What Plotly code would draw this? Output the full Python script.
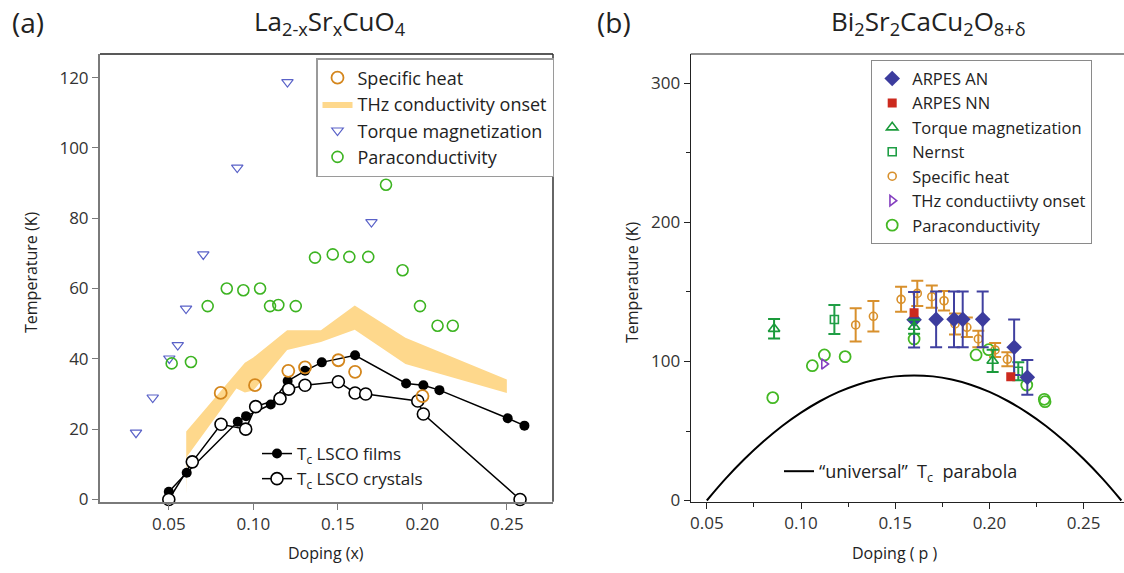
import plotly.graph_objects as go

# ---------------- Panel (a) data: La2-xSrxCuO4 ----------------
films_x = [0.050, 0.0606, 0.0908, 0.0957, 0.1103, 0.1203, 0.1306, 0.1405, 0.1602, 0.1904, 0.2006, 0.2101, 0.2505, 0.2604]
films_y = [2.2, 7.6, 22.1, 23.7, 27.0, 33.7, 36.6, 39.0, 41.0, 33.0, 32.5, 31.1, 23.1, 21.0]

crystals_x = [0.050, 0.0639, 0.0809, 0.0955, 0.1014, 0.1158, 0.1209, 0.1306, 0.1503, 0.1602, 0.1665, 0.1973, 0.2006, 0.2578]
crystals_y = [0.0, 10.7, 21.4, 20.0, 26.4, 28.7, 31.4, 32.5, 33.5, 30.3, 30.0, 28.0, 24.3, 0.0]

sh_a_x = [0.0807, 0.1010, 0.1207, 0.1306, 0.1503, 0.1602, 0.2001]
sh_a_y = [30.3, 32.5, 36.6, 37.6, 39.6, 36.3, 29.4]

para_a_x = [0.0517, 0.0631, 0.0730, 0.0843, 0.0941, 0.1040, 0.1099, 0.1148, 0.1251, 0.1365,
            0.1470, 0.1568, 0.1680, 0.1785, 0.1883, 0.1986, 0.2090, 0.2180]
para_a_y = [38.7, 39.1, 55.0, 60.0, 59.5, 60.0, 55.0, 55.3, 55.0, 68.8,
            69.7, 69.0, 69.0, 89.5, 65.2, 55.0, 49.4, 49.4]

torque_a_x = [0.0306, 0.0405, 0.0503, 0.0553, 0.0602, 0.0704, 0.0905, 0.1202, 0.1699]
torque_a_y = [19.0, 29.0, 40.1, 43.9, 54.3, 69.7, 94.4, 118.7, 78.9]

thz_upper_x = [0.0603, 0.0950, 0.1000, 0.1200, 0.1400, 0.1600, 0.1900, 0.2500]
thz_upper_y = [19.3, 38.9, 40.4, 48.1, 48.1, 55.2, 46.0, 34.1]
thz_lower_x = [0.0603, 0.0608, 0.0900, 0.0950, 0.1000, 0.1200, 0.1400, 0.1600, 0.1900, 0.2500]
thz_lower_y = [1.5, 12.2, 31.6, 30.4, 31.0, 42.5, 44.8, 48.3, 38.5, 30.3]

# ---------------- Panel (b) data: Bi2Sr2CaCu2O8+d ----------------
arpes_an_x = [0.160, 0.1717, 0.1812, 0.1858, 0.1964, 0.2131, 0.2201]
arpes_an_y = [130.0, 130.3, 130.3, 130.3, 130.3, 110.2, 88.6]
arpes_an_err = [20, 20, 20, 20, 20, 20, 12.5]

arpes_nn_x = [0.160, 0.2113]
arpes_nn_y = [135.1, 89.1]

torque_b_x = [0.0857, 0.160, 0.2017]
torque_b_y = [123.5, 125.0, 100.5]
torque_b_err = [7, 5, 8]

nernst_x = [0.1177, 0.2153]
nernst_y = [130.2, 93.0]
nernst_err = [10.4, 6.5]

sh_b_x = [0.1290, 0.1384, 0.1531, 0.1617, 0.1694, 0.1759, 0.1817, 0.1880, 0.1941, 0.2030, 0.2095]
sh_b_y = [126.3, 132.5, 144.7, 149.0, 146.6, 143.7, 127.0, 124.6, 116.2, 108.3, 101.6]
sh_b_err = [12, 11, 9, 9, 8, 7, 7.5, 7, 6, 5, 5]

thz_b_x = [0.1122]
thz_b_y = [98.2]

para_b_x = [0.0850, 0.1060, 0.1124, 0.1234, 0.1600, 0.1929, 0.1996, 0.2198, 0.2291, 0.2295]
para_b_y = [74.0, 97.0, 104.7, 103.5, 116.2, 104.7, 108.5, 83.1, 72.8, 71.1]

parab_x = [0.05, 0.06, 0.07, 0.08, 0.09, 0.10, 0.11, 0.12, 0.13, 0.14, 0.15, 0.16,
           0.17, 0.18, 0.19, 0.20, 0.21, 0.22, 0.23, 0.24, 0.25, 0.26, 0.27]
parab_y = [0.0, 15.7, 29.8, 42.4, 53.6, 63.2, 71.4, 78.1, 83.3, 87.0, 89.3, 90.0,
           89.3, 87.0, 83.3, 78.1, 71.4, 63.2, 53.6, 42.4, 29.8, 15.7, 0.0]

FONT = "Open Sans"
W, H = 1124, 573

def px(x):
    return x / W

def py(y):
    return 1 - y / H

fig = go.Figure()

# THz band (panel a)
fig.add_trace(go.Scatter(
    x=thz_upper_x + thz_lower_x[::-1], y=thz_upper_y + thz_lower_y[::-1],
    mode="lines", fill="toself", fillcolor="#fed88c", line=dict(width=0, color="#fed88c"),
    name="THz conductivity onset", legend="legend", legendrank=2, xaxis="x", yaxis="y"))

fig.add_trace(go.Scatter(
    x=torque_a_x, y=torque_a_y, mode="markers", name="Torque magnetization",
    marker=dict(symbol="triangle-down-open", size=10, color="#5a62c8", line=dict(width=1.2)),
    legend="legend", legendrank=3, xaxis="x", yaxis="y"))

fig.add_trace(go.Scatter(
    x=para_a_x, y=para_a_y, mode="markers", name="Paraconductivity",
    marker=dict(symbol="circle-open", size=11, color="#3db422", line=dict(width=1.6)),
    legend="legend", legendrank=4, xaxis="x", yaxis="y"))

fig.add_trace(go.Scatter(
    x=films_x, y=films_y, mode="lines+markers", name="T<sub>c</sub> LSCO films",
    line=dict(color="black", width=1.5),
    marker=dict(symbol="circle", size=10, color="black"),
    cliponaxis=False, legend="legend2", xaxis="x", yaxis="y"))

fig.add_trace(go.Scatter(
    x=crystals_x, y=crystals_y, mode="lines+markers", name="T<sub>c</sub> LSCO crystals",
    line=dict(color="black", width=1.5),
    marker=dict(symbol="circle", size=12, color="white", line=dict(color="black", width=1.6)),
    cliponaxis=False, legend="legend2", xaxis="x", yaxis="y"))

fig.add_trace(go.Scatter(
    x=sh_a_x, y=sh_a_y, mode="markers", name="Specific heat",
    marker=dict(symbol="circle-open", size=12, color="#d4861c", line=dict(width=1.8)),
    legend="legend", legendrank=1, xaxis="x", yaxis="y"))

# ---------------- Panel (b) traces ----------------
fig.add_trace(go.Scatter(
    x=parab_x, y=parab_y, mode="lines", name="\u201cuniversal\u201d  T<sub>c</sub>  parabola",
    line=dict(color="black", width=2, shape="spline"), legend="legend4", xaxis="x2", yaxis="y2"))

fig.add_trace(go.Scatter(
    x=para_b_x, y=para_b_y, mode="markers", name="Paraconductivity",
    marker=dict(symbol="circle-open", size=11, color="#44b824", line=dict(width=1.8)),
    legend="legend3", legendrank=7, xaxis="x2", yaxis="y2"))

fig.add_trace(go.Scatter(
    x=sh_b_x, y=sh_b_y, mode="markers", name="Specific heat",
    error_y=dict(type="data", array=sh_b_err, width=6, thickness=2, color="#d8902c"),
    marker=dict(symbol="circle-open", size=8, color="#d8902c", line=dict(width=1.6)),
    legend="legend3", legendrank=5, xaxis="x2", yaxis="y2"))

fig.add_trace(go.Scatter(
    x=nernst_x, y=nernst_y, mode="markers", name="Nernst",
    error_y=dict(type="data", array=nernst_err, width=6, thickness=2, color="#1f9e45"),
    marker=dict(symbol="square-open", size=8, color="#1f9e45", line=dict(width=1.6)),
    legend="legend3", legendrank=4, xaxis="x2", yaxis="y2"))

fig.add_trace(go.Scatter(
    x=arpes_an_x, y=arpes_an_y, mode="markers", name="ARPES AN",
    error_y=dict(type="data", array=arpes_an_err, width=6, thickness=2, color="#4040a0"),
    marker=dict(symbol="diamond", size=12, color="#3c3c9e"),
    legend="legend3", legendrank=1, xaxis="x2", yaxis="y2"))

fig.add_trace(go.Scatter(
    x=torque_b_x, y=torque_b_y, mode="markers", name="Torque magnetization",
    error_y=dict(type="data", array=torque_b_err, width=6, thickness=2, color="#1a9a3a"),
    marker=dict(symbol="triangle-up-open", size=10, color="#1a9a3a", line=dict(width=1.6)),
    legend="legend3", legendrank=3, xaxis="x2", yaxis="y2"))

fig.add_trace(go.Scatter(
    x=arpes_nn_x, y=arpes_nn_y, mode="markers", name="ARPES NN",
    marker=dict(symbol="square", size=9, color="#cc2a1e"),
    legend="legend3", legendrank=2, xaxis="x2", yaxis="y2"))

fig.add_trace(go.Scatter(
    x=thz_b_x, y=thz_b_y, mode="markers", name="THz conductiivty onset",
    marker=dict(symbol="triangle-right-open", size=9, color="#8540c0", line=dict(width=1.6)),
    legend="legend3", legendrank=6, xaxis="x2", yaxis="y2"))

TICKFONT = dict(family=FONT, size=17, color="#333333")

xa_dom = [px(100), px(553)]
xb_dom = [px(690.7), 1.0]
y_dom = [py(501.7), py(54)]

fig.update_layout(
    width=W, height=H, margin=dict(l=0, r=0, t=0, b=0, pad=0, autoexpand=False),
    paper_bgcolor="white", plot_bgcolor="white",
    font=dict(family=FONT, size=17, color="#222222"),
    xaxis=dict(domain=xa_dom, range=[0.0093, 0.2773], anchor="y", automargin=False,
               tickvals=[0.05, 0.10, 0.15, 0.20, 0.25], tickformat=".2f",
               showline=True, linecolor="#7a7a7a", linewidth=2, ticks="outside",
               ticklen=6, tickwidth=1.2, tickcolor="#7a7a7a", showgrid=False, zeroline=False,
               tickfont=TICKFONT),
    yaxis=dict(domain=y_dom, range=[-0.63, 126.7], anchor="x", automargin=False,
               tickvals=[0, 20, 40, 60, 80, 100, 120],
               showline=True, linecolor="#7a7a7a", linewidth=2, ticks="outside",
               ticklen=6, tickwidth=1.2, tickcolor="#7a7a7a", showgrid=False, zeroline=False,
               tickfont=TICKFONT),
    xaxis2=dict(domain=xb_dom, range=[0.04145, 0.2714], anchor="y2", automargin=False,
                tick0=0.05, dtick=0.05, tickformat=".2f",
                showline=True, linecolor="#222222", linewidth=1.2, ticks="outside",
                ticklen=6, tickwidth=1, tickcolor="#222222", showgrid=False, zeroline=False,
                minor=dict(tick0=0.05, dtick=0.025, ticks="outside", ticklen=4, tickcolor="#222222"),
                tickfont=TICKFONT),
    yaxis2=dict(domain=y_dom, range=[-0.86, 321.2], anchor="x2", automargin=False,
                tickvals=[0, 100, 200, 300],
                showline=True, linecolor="#222222", linewidth=1.2, ticks="outside",
                ticklen=6, tickwidth=1, tickcolor="#222222", showgrid=False, zeroline=False,
                minor=dict(tickvals=[50, 150, 250], ticks="outside", ticklen=4, tickcolor="#222222"),
                tickfont=TICKFONT),
    legend=dict(x=px(316), y=py(58), xanchor="left", yanchor="top",
                bgcolor="white", bordercolor="#9a9a9a", borderwidth=1.5,
                font=dict(family=FONT, size=18, color="#222222"), itemwidth=30,
                tracegroupgap=0),
    legend2=dict(x=px(257), y=py(436), xanchor="left", yanchor="top",
                 bgcolor="rgba(0,0,0,0)", borderwidth=0,
                 font=dict(family=FONT, size=17, color="#222222")),
    legend3=dict(x=px(871), y=py(60), xanchor="left", yanchor="top",
                 bgcolor="white", bordercolor="#8a8a8a", borderwidth=1.2,
                 font=dict(family=FONT, size=16.5, color="#222222"), itemwidth=30,
                 tracegroupgap=0),
    legend4=dict(x=px(779), y=py(453), xanchor="left", yanchor="top",
                 bgcolor="rgba(0,0,0,0)", borderwidth=0,
                 font=dict(family=FONT, size=18, color="#222222")),
    showlegend=True,
)

# frame lines (top/right of panel a, top of panel b)
fig.add_shape(type="line", xref="paper", yref="paper", x0=xa_dom[0], x1=xa_dom[1], y0=y_dom[1], y1=y_dom[1],
              line=dict(color="#222222", width=1.5))
fig.add_shape(type="line", xref="paper", yref="paper", x0=xa_dom[1], x1=xa_dom[1], y0=y_dom[0], y1=y_dom[1],
              line=dict(color="#333333", width=1.5))
fig.add_shape(type="line", xref="paper", yref="paper", x0=xb_dom[0], x1=xb_dom[1], y0=y_dom[1], y1=y_dom[1],
              line=dict(color="#222222", width=1.2))

ann = [
    dict(text="(a)", x=px(28), y=py(22), font=dict(size=28)),
    dict(text="La<sub>2-x</sub>Sr<sub>x</sub>CuO<sub>4</sub>", x=px(330), y=py(22), font=dict(size=26)),
    dict(text="(b)", x=px(614), y=py(22), font=dict(size=28)),
    dict(text="Bi<sub>2</sub>Sr<sub>2</sub>CaCu<sub>2</sub>O<sub>8+\u03b4</sub>", x=px(928), y=py(22), font=dict(size=26)),
    dict(text="Doping (x)", x=px(326), y=py(553), font=dict(size=16)),
    dict(text="Doping ( p )", x=px(895), y=py(553), font=dict(size=16)),
    dict(text="Temperature (K)", x=px(31), y=py(272), font=dict(size=16), textangle=-90),
    dict(text="Temperature (K)", x=px(632), y=py(282), font=dict(size=16), textangle=-90),
]
for a in ann:
    f = dict(family=FONT, color="#222222")
    f.update(a.pop("font"))
    fig.add_annotation(xref="paper", yref="paper", xanchor="center", yanchor="middle",
                       showarrow=False, font=f, **a)

fig.write_html("out.html", config={"displayModeBar": False},
               post_script="document.body.style.margin='0px';document.body.style.overflow='hidden';")
